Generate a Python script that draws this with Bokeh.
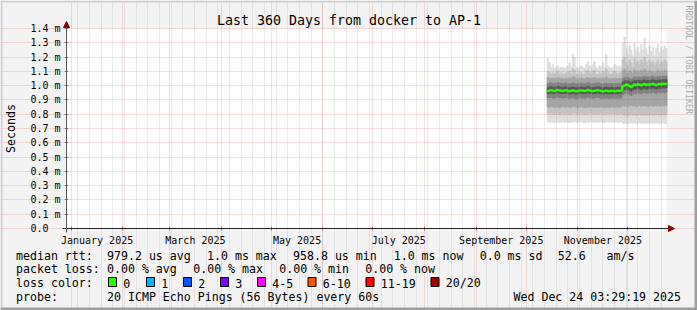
import math
import calendar
from datetime import datetime, timedelta

from bokeh.plotting import figure
from bokeh.models import Range1d, FixedTicker, Label, BoxAnnotation, Arrow, NormalHead
from bokeh.embed import file_html
from bokeh.resources import INLINE

FONT = "DejaVu Sans Mono"
NB = "\u00a0"

# ---------------- data ----------------
title_text = "Last 360 Days from docker to AP-1"
graph_start = datetime(2024, 12, 29, 3, 29, 19)
graph_end = datetime(2025, 12, 24, 3, 29, 19)
first_bin = datetime(2025, 10, 13, 12, 0, 0)   # daily bins from here

# median rtt per day (ms)
median_rtt = [
    0.962, 0.966, 0.968, 0.965, 0.963, 0.967, 0.970, 0.966, 0.964,
    0.962, 0.965, 0.968, 0.963, 0.961, 0.964, 0.966, 0.962, 0.960,
    0.963, 0.965, 0.967, 0.964, 0.962, 0.965, 0.969, 0.966, 0.963,
    0.961, 0.964, 0.966, 0.968, 0.965, 0.962, 0.960, 0.963, 0.965,
    0.962, 0.961, 0.964, 0.963, 0.961, 0.962, 0.964, 0.963, 0.965,
    0.995, 1.002, 1.006, 1.004, 0.998, 0.990, 1.000, 1.008, 1.004,
    1.010, 1.006, 1.002, 1.008, 1.012, 1.005, 1.009, 1.006, 1.010,
    1.013, 1.008, 1.004, 1.010, 1.012, 1.009, 1.013, 1.011, 1.014,
]
ping_max = [
    1.19, 1.16, 1.13, 1.15, 1.12, 1.13, 1.14, 1.12, 1.13,
    1.13, 1.12, 1.13, 1.14, 1.16, 1.13, 1.22, 1.20, 1.13,
    1.12, 1.13, 1.14, 1.13, 1.12, 1.15, 1.17, 1.14, 1.13,
    1.15, 1.17, 1.13, 1.12, 1.14, 1.13, 1.16, 1.13, 1.22,
    1.14, 1.13, 1.12, 1.13, 1.15, 1.14, 1.13, 1.14, 1.13,
    1.30, 1.34, 1.26, 1.22, 1.28, 1.25, 1.21, 1.30, 1.24,
    1.27, 1.23, 1.29, 1.25, 1.33, 1.26, 1.22, 1.28, 1.24,
    1.27, 1.21, 1.26, 1.29, 1.23, 1.27, 1.25, 1.28, 1.26,
]
ping_min = [
    0.745, 0.742, 0.748, 0.744, 0.740, 0.746, 0.743, 0.738, 0.745,
    0.747, 0.741, 0.744, 0.746, 0.739, 0.743, 0.745, 0.748, 0.742,
    0.740, 0.744, 0.746, 0.743, 0.737, 0.745, 0.742, 0.744, 0.747,
    0.741, 0.743, 0.745, 0.740, 0.744, 0.746, 0.742, 0.739, 0.745,
    0.743, 0.741, 0.746, 0.744, 0.742, 0.745, 0.740, 0.743, 0.746,
    0.738, 0.735, 0.741, 0.733, 0.737, 0.740, 0.734, 0.738, 0.731,
    0.736, 0.739, 0.733, 0.737, 0.735, 0.740, 0.732, 0.736, 0.738,
    0.734, 0.737, 0.735, 0.739, 0.733, 0.736, 0.738, 0.734, 0.737,
]
ping_p10 = [
    0.805, 0.800, 0.808, 0.803, 0.798, 0.806, 0.802, 0.797, 0.804,
    0.807, 0.801, 0.803, 0.806, 0.799, 0.802, 0.805, 0.808, 0.801,
    0.799, 0.803, 0.806, 0.802, 0.796, 0.804, 0.801, 0.803, 0.807,
    0.800, 0.802, 0.805, 0.799, 0.803, 0.806, 0.801, 0.798, 0.804,
    0.802, 0.800, 0.805, 0.803, 0.801, 0.804, 0.799, 0.802, 0.805,
    0.798, 0.792, 0.801, 0.790, 0.796, 0.800, 0.793, 0.797, 0.789,
    0.795, 0.799, 0.792, 0.796, 0.794, 0.800, 0.791, 0.795, 0.798,
    0.793, 0.796, 0.794, 0.799, 0.792, 0.795, 0.797, 0.793, 0.796,
]
ping_p90 = [
    1.10, 1.09, 1.08, 1.09, 1.08, 1.09, 1.10, 1.08, 1.09,
    1.08, 1.08, 1.09, 1.09, 1.10, 1.08, 1.12, 1.11, 1.08,
    1.08, 1.09, 1.09, 1.08, 1.08, 1.10, 1.11, 1.09, 1.08,
    1.10, 1.11, 1.08, 1.08, 1.09, 1.08, 1.10, 1.09, 1.12,
    1.09, 1.08, 1.08, 1.09, 1.10, 1.09, 1.08, 1.09, 1.09,
    1.18, 1.20, 1.16, 1.14, 1.18, 1.16, 1.13, 1.19, 1.16,
    1.17, 1.15, 1.18, 1.16, 1.20, 1.17, 1.14, 1.18, 1.16,
    1.17, 1.14, 1.16, 1.18, 1.15, 1.17, 1.16, 1.18, 1.17,
]
ping_p25 = [
    0.852, 0.848, 0.855, 0.850, 0.846, 0.853, 0.849, 0.844, 0.851,
    0.854, 0.848, 0.850, 0.853, 0.846, 0.849, 0.852, 0.855, 0.848,
    0.846, 0.850, 0.853, 0.849, 0.843, 0.851, 0.848, 0.850, 0.854,
    0.847, 0.849, 0.852, 0.846, 0.850, 0.853, 0.848, 0.845, 0.851,
    0.849, 0.847, 0.852, 0.850, 0.848, 0.851, 0.846, 0.849, 0.852,
    0.862, 0.855, 0.866, 0.852, 0.859, 0.864, 0.856, 0.861, 0.850,
    0.858, 0.863, 0.855, 0.860, 0.857, 0.865, 0.853, 0.859, 0.862,
    0.856, 0.860, 0.857, 0.863, 0.855, 0.859, 0.861, 0.856, 0.860,
]
ping_p75 = [
    1.055, 1.050, 1.048, 1.053, 1.047, 1.052, 1.056, 1.049, 1.051,
    1.048, 1.047, 1.052, 1.050, 1.055, 1.049, 1.062, 1.058, 1.048,
    1.047, 1.051, 1.053, 1.049, 1.047, 1.054, 1.058, 1.051, 1.049,
    1.054, 1.057, 1.048, 1.047, 1.052, 1.049, 1.055, 1.050, 1.063,
    1.052, 1.048, 1.047, 1.051, 1.054, 1.051, 1.048, 1.052, 1.050,
    1.105, 1.115, 1.098, 1.088, 1.108, 1.096, 1.085, 1.112, 1.097,
    1.104, 1.092, 1.109, 1.098, 1.116, 1.103, 1.089, 1.108, 1.096,
    1.102, 1.087, 1.099, 1.110, 1.094, 1.104, 1.098, 1.108, 1.103,
]
ping_p40 = [
    0.913, 0.916, 0.918, 0.914, 0.912, 0.917, 0.919, 0.915, 0.913,
    0.911, 0.914, 0.917, 0.912, 0.910, 0.913, 0.915, 0.911, 0.909,
    0.912, 0.914, 0.916, 0.913, 0.911, 0.914, 0.918, 0.915, 0.912,
    0.910, 0.913, 0.915, 0.917, 0.914, 0.911, 0.909, 0.912, 0.914,
    0.911, 0.910, 0.913, 0.912, 0.910, 0.911, 0.913, 0.912, 0.914,
    0.935, 0.942, 0.946, 0.944, 0.938, 0.930, 0.940, 0.948, 0.944,
    0.950, 0.946, 0.942, 0.948, 0.952, 0.945, 0.949, 0.946, 0.950,
    0.953, 0.948, 0.944, 0.950, 0.952, 0.949, 0.953, 0.951, 0.954,
]
ping_p60 = [
    1.015, 1.019, 1.020, 1.017, 1.014, 1.019, 1.022, 1.018, 1.016,
    1.014, 1.017, 1.020, 1.015, 1.013, 1.016, 1.020, 1.016, 1.012,
    1.015, 1.017, 1.019, 1.016, 1.014, 1.017, 1.022, 1.018, 1.015,
    1.013, 1.016, 1.018, 1.020, 1.017, 1.014, 1.012, 1.015, 1.018,
    1.014, 1.013, 1.016, 1.015, 1.013, 1.014, 1.016, 1.015, 1.017,
    1.048, 1.056, 1.060, 1.057, 1.051, 1.043, 1.053, 1.062, 1.057,
    1.064, 1.059, 1.055, 1.062, 1.066, 1.058, 1.063, 1.059, 1.064,
    1.067, 1.061, 1.057, 1.064, 1.066, 1.062, 1.067, 1.065, 1.068,
]
ping_p45 = [
    0.942, 0.946, 0.948, 0.945, 0.943, 0.947, 0.950, 0.946, 0.944,
    0.942, 0.945, 0.948, 0.943, 0.941, 0.944, 0.946, 0.942, 0.940,
    0.943, 0.945, 0.947, 0.944, 0.942, 0.945, 0.949, 0.946, 0.943,
    0.941, 0.944, 0.946, 0.948, 0.945, 0.942, 0.940, 0.943, 0.945,
    0.942, 0.941, 0.944, 0.943, 0.941, 0.942, 0.944, 0.943, 0.945,
    0.965, 0.972, 0.976, 0.974, 0.968, 0.960, 0.970, 0.978, 0.974,
    0.980, 0.976, 0.972, 0.978, 0.982, 0.975, 0.979, 0.976, 0.980,
    0.983, 0.978, 0.974, 0.980, 0.982, 0.979, 0.983, 0.981, 0.984,
]
ping_p55 = [
    0.987, 0.991, 0.993, 0.990, 0.988, 0.992, 0.995, 0.991, 0.989,
    0.987, 0.990, 0.993, 0.988, 0.986, 0.989, 0.991, 0.987, 0.985,
    0.988, 0.990, 0.992, 0.989, 0.987, 0.990, 0.994, 0.991, 0.988,
    0.986, 0.989, 0.991, 0.993, 0.990, 0.987, 0.985, 0.988, 0.990,
    0.987, 0.986, 0.989, 0.988, 0.986, 0.987, 0.989, 0.988, 0.990,
    1.025, 1.032, 1.036, 1.034, 1.028, 1.020, 1.030, 1.038, 1.034,
    1.040, 1.036, 1.032, 1.038, 1.042, 1.035, 1.039, 1.036, 1.040,
    1.043, 1.038, 1.034, 1.040, 1.042, 1.039, 1.043, 1.041, 1.044,
]

y_ticks = [0.0, 0.1, 0.2, 0.3, 0.4, 0.5, 0.6, 0.7, 0.8, 0.9, 1.0, 1.1, 1.2, 1.3, 1.4]
y_tick_labels = ["0.0" + NB + NB, "0.1 m", "0.2 m", "0.3 m", "0.4 m", "0.5 m", "0.6 m",
                 "0.7 m", "0.8 m", "0.9 m", "1.0 m", "1.1 m", "1.2 m", "1.3 m", "1.4 m"]
month_labels = ["January 2025", "March 2025", "May 2025", "July 2025",
                "September 2025", "November 2025"]
month_label_dates = [datetime(2025, 1, 16, 12), datetime(2025, 3, 16, 12),
                     datetime(2025, 5, 16, 12), datetime(2025, 7, 16, 12),
                     datetime(2025, 9, 16, 0), datetime(2025, 11, 16, 0)]

rtt_items = ["979.2 us avg", "1.0 ms max", "958.8 us min", "1.0 ms now", "0.0 ms sd",
             "52.6" + NB + NB + NB + "am/s"]
loss_items = ["0.00 % avg", "0.00 % max", "0.00 % min", "0.00 % now"]
loss_labels = ["0", "1", "2", "3", "4-5", "6-10", "11-19", "20/20"]
loss_colors = ["#26ff00", "#00b8ff", "#0059ff", "#7e00ff", "#ff00ff", "#ff5500", "#ff0000", "#a10000"]
probe_text = "20 ICMP Echo Pings (56 Bytes) every 60s"
stamp_text = "Wed Dec 24 03:29:19 2025"

# ---------------- layout / styles ----------------
rtt_x = [106.5, 206.5, 292.5, 393.2, 479.2, 557.2]
loss_x = [106.5, 192.7, 278.7, 364.7]
box_x = [107.5, 145.5, 182.5, 219.5, 256.5, 307.0, 365.0, 430.0]
band_colors = ["#dddddd", "#c3c3c3", "#a4a4a4", "#808080", "#575757"]

CW, CH = 697, 310
L, TOP, W, H = 66, 28, 600, 200
YMAX = 1.4


def ms(dt):
    return calendar.timegm(dt.timetuple()) * 1000


T0, T1 = ms(graph_start), ms(graph_end)


def px2x(px):
    return T0 + (px - L) / W * (T1 - T0)


def px2y(py):
    return (TOP + H - py) / H * YMAX


# the frame covers the whole canvas; the graph area is mapped to px 66..666 / 28..228
p = figure(width=CW, height=CH, min_border=0,
           min_border_left=0, min_border_right=0, min_border_top=0, min_border_bottom=0,
           x_range=Range1d(px2x(0), px2x(CW)), y_range=Range1d(px2y(CH), px2y(0)),
           x_axis_type="datetime", output_backend="svg", toolbar_location=None)
p.background_fill_color = "#f3f3f3"
p.border_fill_color = "#f3f3f3"
p.outline_line_color = None

# white graph canvas
p.add_layout(BoxAnnotation(left=T0, right=T1, bottom=0, top=YMAX, fill_color="white",
                           fill_alpha=1.0, line_color=None, level="underlay"))

# smoke bands (daily bins)
n = len(median_rtt)
edges = [ms(first_bin + timedelta(days=i)) for i in range(n + 1)]
bands = [(ping_min, ping_max), (ping_p10, ping_p90), (ping_p25, ping_p75),
         (ping_p40, ping_p60), (ping_p45, ping_p55)]
for (lo, hi), col in zip(bands, band_colors):
    p.quad(left=edges[:-1], right=edges[1:], bottom=lo, top=hi,
           fill_color=col, line_color=col, line_width=0.5)

med = p.step(x=edges, y=median_rtt + [median_rtt[-1]], mode="after",
             line_color="#26ff00", line_width=2.4)
med.level = "annotation"

# grid
month_starts = [ms(datetime(2025, m, 1)) for m in range(1, 13)]
sundays = []
d = datetime(2025, 1, 5)
while d < graph_end:
    sundays.append(ms(d))
    d += timedelta(days=7)

p.xgrid.ticker = FixedTicker(ticks=month_starts, minor_ticks=sundays)
p.xgrid.bounds = (0, YMAX)
p.xgrid.grid_line_color = "#e05050"
p.xgrid.grid_line_alpha = 0.38
p.xgrid.grid_line_dash = "1 1"
p.xgrid.minor_grid_line_color = "#b0b0b0"
p.xgrid.minor_grid_line_alpha = 0.5
p.xgrid.minor_grid_line_dash = "1 1"
p.ygrid.ticker = FixedTicker(ticks=y_ticks)
p.ygrid.bounds = (T0, T1)
p.ygrid.grid_line_color = "#e05050"
p.ygrid.grid_line_alpha = 0.38
p.ygrid.grid_line_dash = "1 1"
p.xgrid.level = "guide"
p.ygrid.level = "guide"

# axes, placed at the graph area edges
label_ticks = [ms(t) for t in month_label_dates]
xa = p.xaxis[0]
xa.fixed_location = 0
xa.ticker = FixedTicker(ticks=label_ticks, minor_ticks=month_starts)
xa.major_label_overrides = {t: s for t, s in zip(label_ticks, month_labels)}
xa.axis_line_color = None
xa.major_tick_line_color = None
xa.major_tick_in = 0
xa.major_tick_out = 0
xa.minor_tick_line_color = "#e06060"
xa.minor_tick_in = 2
xa.minor_tick_out = 2
xa.major_label_standoff = 4
xa.major_label_text_font = FONT
xa.major_label_text_font_size = "10px"
xa.major_label_text_color = "black"

ya = p.yaxis[0]
ya.fixed_location = T0
ya.ticker = FixedTicker(ticks=y_ticks)
ya.major_label_overrides = {t: s for t, s in zip(y_ticks, y_tick_labels)}
ya.axis_line_color = None
ya.major_tick_line_color = "#888888"
ya.major_tick_in = 2
ya.major_tick_out = 2
ya.minor_tick_line_color = None
ya.major_label_standoff = 4
ya.major_label_text_font = FONT
ya.major_label_text_font_size = "10px"
ya.major_label_text_color = "black"

# axis lines with arrows
p.add_layout(Arrow(x_start=px2x(62), y_start=0, x_end=px2x(674), y_end=0,
                   line_color="#222222", line_width=1,
                   end=NormalHead(size=6, fill_color="#8b0000", line_color="#8b0000")))
p.add_layout(Arrow(x_start=T0, y_start=px2y(232), x_end=T0, y_end=px2y(21),
                   line_color="#555555", line_width=1,
                   end=NormalHead(size=6, fill_color="#8b0000", line_color="#8b0000")))


def add_text(px, py, text, size="11.6px", align="left", baseline="alphabetic",
             color="black", angle=0.0):
    p.add_layout(Label(x=px2x(px), y=px2y(py), text=text, text_font=FONT,
                       text_font_size=size, text_align=align, text_baseline=baseline,
                       text_color=color, angle=angle))


add_text(348.5, 19.5, title_text, size="13.3px", align="center")
add_text(10.5, 128, "Seconds", align="center", baseline="middle", angle=math.pi / 2)
add_text(688, 5, "RRDTOOL / TOBI OETIKER", size="8.2px", align="left",
         baseline="middle", color="#aaaaaa", angle=-math.pi / 2)

rows_y = [255.0, 268.8, 282.7, 296.5]
add_text(15.5, rows_y[0], "median rtt:")
for xx, s in zip(rtt_x, rtt_items):
    add_text(xx, rows_y[0], s)
add_text(15.5, rows_y[1], "packet loss:")
for xx, s in zip(loss_x, loss_items):
    add_text(xx, rows_y[1], s)
add_text(15.5, rows_y[2], "loss color:")
for bx, lab, col in zip(box_x, loss_labels, loss_colors):
    p.add_layout(BoxAnnotation(left=px2x(bx + 0.5), right=px2x(bx + 8.5),
                               top=px2y(277.0), bottom=px2y(286.0),
                               fill_color=col, fill_alpha=1.0,
                               line_color="black", line_width=1, line_alpha=1.0))
    add_text(bx + 15.3, rows_y[2], lab)
add_text(15.5, rows_y[3], "probe:")
add_text(106.5, rows_y[3], probe_text)
add_text(680.5, rows_y[3], stamp_text, align="right")

# canvas 3D border
for l_, r_, t_, b_, c_ in [(0, CW, 0, 2, "#cfcfcf"), (0, 2, 0, CH, "#cfcfcf"),
                           (CW - 3, CW, 0, CH, "#9e9e9e"), (0, CW, CH - 3, CH, "#9e9e9e")]:
    p.add_layout(BoxAnnotation(left=px2x(l_), right=px2x(r_), top=px2y(t_), bottom=px2y(b_),
                               fill_color=c_, fill_alpha=1.0, line_color=None))

open("out.html", "w").write(file_html(p, INLINE))
